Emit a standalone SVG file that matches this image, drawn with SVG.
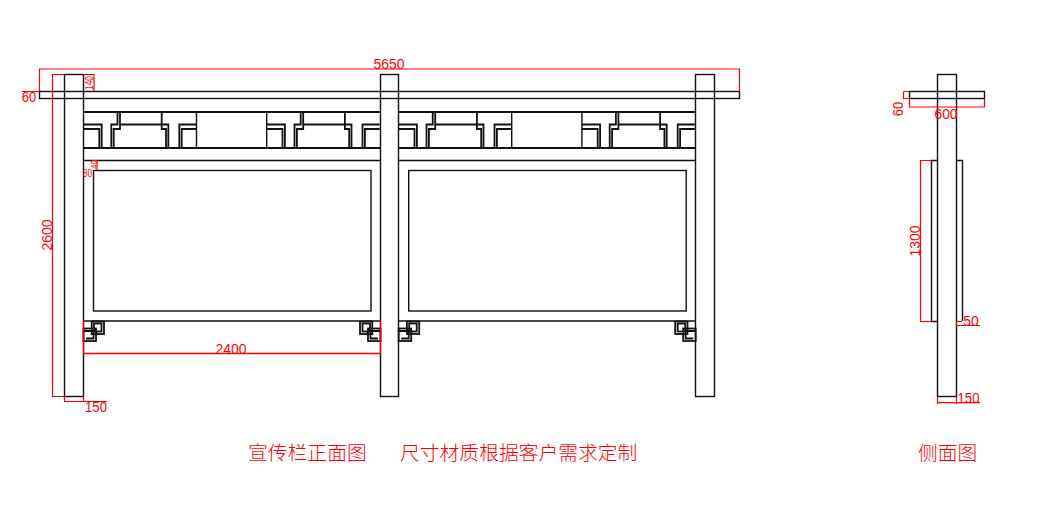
<svg xmlns="http://www.w3.org/2000/svg" xmlns:xlink="http://www.w3.org/1999/xlink" width="1044" height="515" viewBox="0 0 1044 515">
<style>
.k{fill:none;stroke:#111;stroke-width:1.4}
.h{fill:none;stroke:#111;stroke-width:1.8}
.r{fill:none;stroke:#f00;stroke-width:1.2}
.t{font-family:"Liberation Sans",Arial,sans-serif;font-size:15px;fill:#f00;text-anchor:middle}
.c{font-family:"Noto Sans CJK SC","Liberation Sans",sans-serif;font-size:19.8px;fill:#f00;font-weight:300}
</style>
<defs>
<g id="fret" class="h">
<path d="M83.5 124.5H101.7V148M83.5 129H99.3V148"/>
<path d="M111.3 148V124.5H117.5V112M113.7 148V129H120V112M120 124.5H168.3V148M161.7 112V129H166V148"/>
<path d="M179.3 148V124.5H196.5M181.7 148V129H196.5"/>
</g>
<g id="brk" class="h">
<rect x="91.7" y="321.5" width="12.3" height="12.5"/>
<rect x="94" y="323.5" width="7.5" height="8"/>
<rect x="83.5" y="328.5" width="12.5" height="12.5"/>
<path d="M83.5 331H93.5V338.5H86"/>
</g>
<g id="bay">
<rect class="k" x="93.5" y="170.5" width="277.5" height="140.5"/>
<use xlink:href="#fret" href="#fret"/>
<use xlink:href="#fret" href="#fret" x="183.2"/>
<path class="k" d="M196.5 112V148M266.7 112V148M83.5 160.5H380.5M83.5 321H380.5"/>
<path class="h" d="M83.5 112H380.5M83.5 148H380.5"/>
<use xlink:href="#brk" href="#brk"/>
<use xlink:href="#brk" href="#brk" transform="matrix(-1 0 0 1 464 0)"/>
</g>
</defs>
<g id="front-bay-1"><use xlink:href="#bay" href="#bay"/></g>
<g id="front-bay-2"><use xlink:href="#bay" href="#bay" x="315.2"/></g>
<g id="front-beam"><rect class="k" x="39.5" y="91.5" width="700" height="7"/></g>
<g id="post-left"><rect class="k" x="64.5" y="74.5" width="19" height="322"/></g>
<g id="post-mid"><rect class="k" x="380.5" y="74.5" width="18" height="322"/></g>
<g id="post-right"><rect class="k" x="695.5" y="74.5" width="19" height="322"/></g>
<g id="side-view">
<rect class="k" x="937.5" y="74.5" width="19" height="322"/>
<rect class="k" x="909.5" y="91.5" width="75" height="7"/>
<path class="k" d="M937.5 160.5H931.5V321.5H937.5M956.5 160.5H962.5V321"/>
</g>
<g id="connectors" class="r">
<path d="M39.5 91V69H739.5V91"/>
<path d="M64.5 74.5H52.5V396.5H64.5"/>
<path d="M64.5 396.5V401.5H107M83.5 396.5V401.5"/>
<path d="M83.5 74.5H94V91M22 91.5H39"/>
<path d="M92 160.5H97V170"/>
<path d="M83.5 321V353.5H380.5V321" stroke-width="1.4"/>
<path d="M903.5 91.5H909M903.5 91.5V98.5H909M909.5 98.5V107H984.5V98.5"/>
<path d="M931 160.5H920.5V321.5H931"/>
<path d="M956.5 321.5H962M956.5 321.5V325.5H980"/>
<path d="M937.5 396.5V404M956.5 396.5V404M937.5 402.7H980"/>
</g>
<g id="labels">
<text class="t" x="389" y="69" textLength="31" lengthAdjust="spacingAndGlyphs">5650</text>
<text class="t" x="29" y="101.5" textLength="14.5" lengthAdjust="spacingAndGlyphs">60</text>
<text class="t" transform="translate(93 83) rotate(-90)" style="font-size:10px" textLength="14" lengthAdjust="spacingAndGlyphs">140</text>
<text class="t" transform="translate(97 164.5) rotate(-90)" style="font-size:9.5px" textLength="9" lengthAdjust="spacingAndGlyphs">40</text>
<text class="t" x="87.5" y="176.5" style="font-size:10px" textLength="9.5" lengthAdjust="spacingAndGlyphs">80</text>
<text class="t" transform="translate(52 235) rotate(-90)" textLength="31" lengthAdjust="spacingAndGlyphs">2600</text>
<text class="t" x="96" y="411.5" textLength="22" lengthAdjust="spacingAndGlyphs">150</text>
<text class="t" x="231" y="354" textLength="31" lengthAdjust="spacingAndGlyphs">2400</text>
<text class="t" x="946" y="118.5" textLength="23" lengthAdjust="spacingAndGlyphs">600</text>
<text class="t" transform="translate(903 109) rotate(-90)" textLength="14.5" lengthAdjust="spacingAndGlyphs">60</text>
<text class="t" transform="translate(920 241) rotate(-90)" textLength="31" lengthAdjust="spacingAndGlyphs">1300</text>
<text class="t" x="971" y="325.5" textLength="15.5" lengthAdjust="spacingAndGlyphs">50</text>
<text class="t" x="968.5" y="403" textLength="22" lengthAdjust="spacingAndGlyphs">150</text>
<text class="c" x="248" y="460">宣传栏正面图</text>
<text class="c" x="400" y="460">尺寸材质根据客户需求定制</text>
<text class="c" x="918" y="460">侧面图</text>
</g>
</svg>
